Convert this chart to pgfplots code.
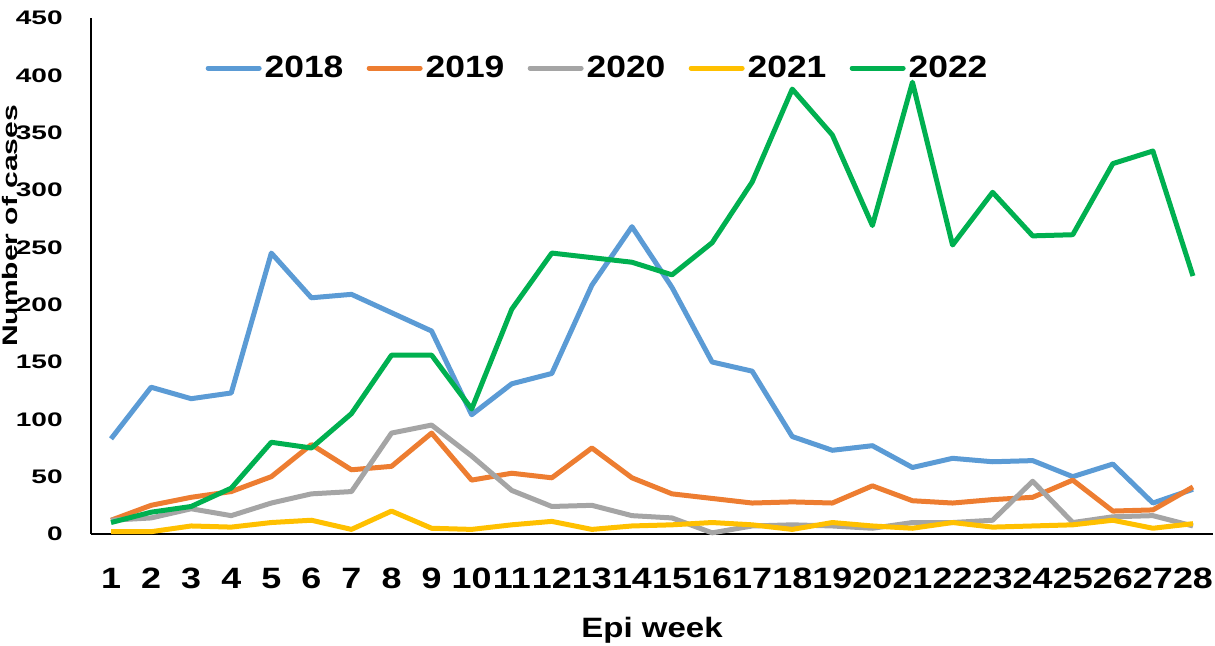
\documentclass[border=0pt]{standalone}
\usepackage{fontspec}
\setmainfont{Liberation Sans}
\newfontfamily\legfont{Liberation Sans}[FakeStretch=1.15]
\newfontfamily\xtfont{Liberation Sans}[FakeStretch=1.22]
\newfontfamily\ytfont{Liberation Sans}[FakeStretch=1.43]
\newfontfamily\xlabfont{Liberation Sans}[FakeStretch=1.18]
\newfontfamily\ylabfont{Liberation Sans}[FakeStretch=1.43]
\usepackage{pgfplots}
\usepackage{pgfplotstable}
\pgfplotsset{compat=1.18}
\definecolor{c2018}{HTML}{5B9BD5}
\definecolor{c2019}{HTML}{ED7D31}
\definecolor{c2020}{HTML}{A5A5A5}
\definecolor{c2021}{HTML}{FFC000}
\definecolor{c2022}{HTML}{00B050}
\pgfplotstableread{
week a2018 a2019 a2020 a2021 a2022
1  83  12 12  2  10
2  128 25 14  2  19
3  118 32 22  7  24
4  123 37 16  6  40
5  245 50 27 10  80
6  206 78 35 12  75
7  209 56 37  4  105
8  193 59 88 20  156
9  177 88 95  5  156
10 104 47 68  4  109
11 131 53 38  8  196
12 140 49 24 11  245
13 217 75 25  4  241
14 268 49 16  7  237
15 215 35 14  8  226
16 150 31  1 10  254
17 142 27  7  8  307
18 85  28  8  4  388
19 73  27  7 10  348
20 77  42  5  7  269
21 58  29 10  5  394
22 66  27 10 10  252
23 63  30 12  6  298
24 64  32 46  7  260
25 50  47 10  8  261
26 61  20 15 12  323
27 27  21 16  5  334
28 39  41  7  9  225
}\datatable
\begin{document}
\begin{tikzpicture}
\begin{axis}[
  scale only axis,
  width=561pt, height=258pt,
  xmin=0.5, xmax=28.5,
  ymin=0, ymax=450,
  axis x line=bottom, axis y line=left,
  axis line style={-, line width=0.75pt, black},
  major tick length=0pt,
  xtick={1,...,28},
  ytick={0,50,...,450},
  /pgf/number format/assume math mode=true,
  /pgf/number format/1000 sep={},
  xticklabel style={font=\xtfont\bfseries\fontsize{14.7}{15}\selectfont, inner sep=0pt, anchor=north, yshift=-17pt},
  yticklabel style={font=\ytfont\bfseries\fontsize{9.8}{10}\selectfont, inner sep=0pt, anchor=east, xshift=-14pt},
  xlabel={Epi week},
  xlabel style={font=\xlabfont\bfseries\fontsize{14}{15}\selectfont, at={(axis description cs:0.5,0)}, anchor=north, inner sep=0pt, yshift=-41.5pt},
  ylabel={Number of cases},
  ylabel style={font=\ylabfont\bfseries\fontsize{10.5}{11}\selectfont, at={(axis description cs:0,0.597)}, anchor=south, inner sep=0pt, yshift=36.5pt},
  clip=false,
  every axis plot/.append style={line width=2.5pt, line join=round, no markers},
  legend columns=5,
  legend image code/.code={\draw[#1, line cap=round] (0pt,0pt) -- (25.5pt,0pt);},
  legend style={draw=none, fill=none, at={(axis description cs:0.0965,0.903)}, anchor=west,
    font=\legfont\bfseries\fontsize{15.4}{16}\selectfont, column sep=0pt,
    nodes={inner sep=0pt}},
]
\addplot[c2018] table[x=week, y=a2018] {\datatable};
\addplot[c2019] table[x=week, y=a2019] {\datatable};
\addplot[c2020] table[x=week, y=a2020] {\datatable};
\addplot[c2021] table[x=week, y=a2021] {\datatable};
\addplot[c2022] table[x=week, y=a2022] {\datatable};
\legend{\makebox[52.5pt][l]{\hspace{1.5pt}2018},\makebox[52.5pt][l]{\hspace{1.5pt}2019},\makebox[52.5pt][l]{\hspace{1.5pt}2020},\makebox[52.5pt][l]{\hspace{1.5pt}2021},\makebox[52.5pt][l]{\hspace{1.5pt}2022}}
\end{axis}
\pgfresetboundingbox
\path ([xshift=-45.5pt,yshift=-56pt]current axis.south west) rectangle ([xshift=1pt,yshift=9pt]current axis.north east);
\end{tikzpicture}
\end{document}
